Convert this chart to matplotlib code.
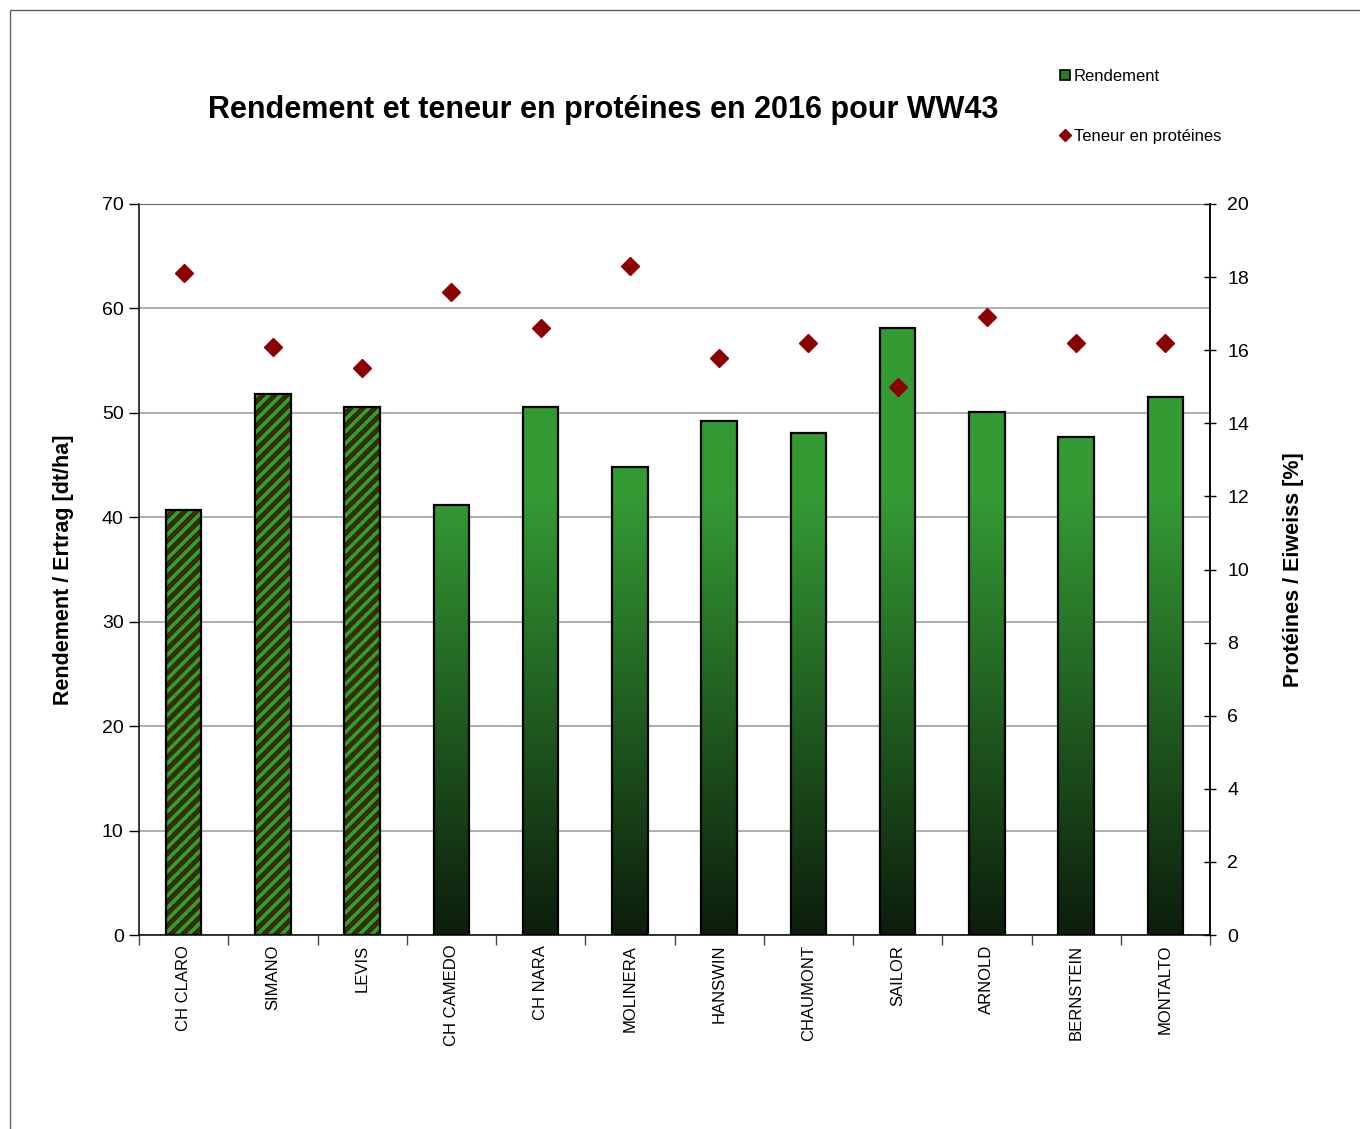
import numpy as np
import matplotlib
matplotlib.use("Agg")
import matplotlib.pyplot as plt
from matplotlib.patches import Rectangle
from matplotlib.lines import Line2D
from matplotlib.colors import to_rgb

plt.rcParams['font.family'] = ['Liberation Sans', 'DejaVu Sans']

varieties = ["CH CLARO", "SIMANO", "LEVIS", "CH CAMEDO", "CH NARA", "MOLINERA",
             "HANSWIN", "CHAUMONT", "SAILOR", "ARNOLD", "BERNSTEIN", "MONTALTO"]
rendement = [40.7, 51.8, 50.6, 41.2, 50.6, 44.8, 49.2, 48.1, 58.1, 50.1, 47.7, 51.5]
proteines = [18.1, 16.1, 15.5, 17.6, 16.6, 18.3, 15.8, 16.2, 15.0, 16.9, 16.2, 16.2]
hatched = [True, True, True, False, False, False, False, False, False, False, False, False]

W, H = 1360, 1129
fig = plt.figure(figsize=(W / 100, H / 100), dpi=100)

# figure frame
fig.patches.append(Rectangle((10 / W, -0.02), 1.05, 1 - 10 / H + 0.02, transform=fig.transFigure,
                             fill=False, edgecolor='#606060', linewidth=1.0))

ax = fig.add_axes([139 / W, 1 - 935 / H, (1210 - 139) / W, (935 - 204) / H])
ax2 = ax.twinx()

x = np.arange(len(varieties))
bw = 0.40
ax.set_xlim(-0.5, len(varieties) - 0.5)
ax.set_ylim(0, 70)

dark = np.array(to_rgb('#0c1d0c'))
green = np.array(to_rgb('#349a34'))
stripe_green = np.array(to_rgb('#30a030'))
stripe_dark = np.array(to_rgb('#362e00'))

for xi, h, hat in zip(x, rendement, hatched):
    if hat:
        p0 = ax.transData.transform((xi - bw / 2, 0))
        p1 = ax.transData.transform((xi + bw / 2, h))
        npx_w = max(int(round(p1[0] - p0[0])), 1)
        npx_h = max(int(round(p1[1] - p0[1])), 1)
        ii, jj = np.mgrid[0:npx_h, 0:npx_w]
        phase = (ii + jj) % 12
        mask = (phase < 5)[:, :, None]
        img = np.where(mask, stripe_green, stripe_dark)
        ax.imshow(img, extent=[xi - bw / 2, xi + bw / 2, 0, h], aspect='auto',
                  zorder=2, interpolation='antialiased')
    else:
        vals = np.linspace(0, h, 300)
        t = np.clip(vals / 42.0, 0, 1)[:, None]
        cols = dark * (1 - t) + green * t
        img = cols[::-1][:, None, :]
        ax.imshow(img, extent=[xi - bw / 2, xi + bw / 2, 0, h], aspect='auto',
                  zorder=2, interpolation='bilinear')
    ax.bar(xi, h, width=bw, fill=False, edgecolor='black', linewidth=1.6, zorder=3)

ax.set_xlim(-0.5, len(varieties) - 0.5)
ax.set_ylim(0, 70)
ax.set_yticks(np.arange(0, 71, 10))
ax.yaxis.grid(True, color='#999999', linewidth=1.1, zorder=0)
ax.set_axisbelow(True)
ax.tick_params(axis='y', labelsize=14, length=7, width=1, direction='out', pad=4)
ax.set_xticks(x)
ax.set_xticklabels(varieties, rotation=90, fontsize=12, va='top')
ax.tick_params(axis='x', length=0, pad=7)
ax.set_xticks(np.arange(-0.5, len(varieties), 1.0), minor=True)
ax.tick_params(axis='x', which='minor', length=7, width=1, direction='out', color='#444444')
ax.set_ylabel("Rendement / Ertrag [dt/ha]", fontsize=15.5, fontweight='bold', labelpad=20)

for s in ['left', 'bottom', 'right']:
    ax.spines[s].set_color('black')
    ax.spines[s].set_linewidth(1.1)
ax.spines['top'].set_color('#666666')

ax2.plot(x, proteines, linestyle='none', marker='D', markersize=9,
         color='#8b0000', zorder=5)
ax2.set_ylim(0, 20)
ax2.set_yticks(np.arange(0, 21, 2))
ax2.tick_params(axis='y', labelsize=14, length=9, width=1, direction='inout', pad=8)
ax2.set_ylabel("Protéines / Eiweiss [%]", fontsize=15.5, fontweight='bold', labelpad=24)
ax2.spines['right'].set_color('black')
ax2.spines['right'].set_linewidth(1.1)
for s in ['left', 'top', 'bottom']:
    ax2.spines[s].set_visible(False)

fig.text(603 / W, 1 - 110 / H, "Rendement et teneur en protéines en 2016 pour WW43",
         ha='center', va='center', fontsize=22, fontweight='bold')

handles = [Line2D([], [], linestyle='none', marker='s', markersize=7,
                  markerfacecolor='#2a7a2a', markeredgecolor='black', markeredgewidth=1.2),
           Line2D([], [], linestyle='none', marker='D', markersize=6, color='#8b0000')]
fig.legend(handles, ["Rendement", "Teneur en protéines"], loc='upper left',
           bbox_to_anchor=(1052 / W, 1 - 61 / H), frameon=False, fontsize=12,
           labelspacing=2.7, handlelength=0.6, handletextpad=0.2, borderpad=0)

fig.savefig("out.png", dpi=100)
